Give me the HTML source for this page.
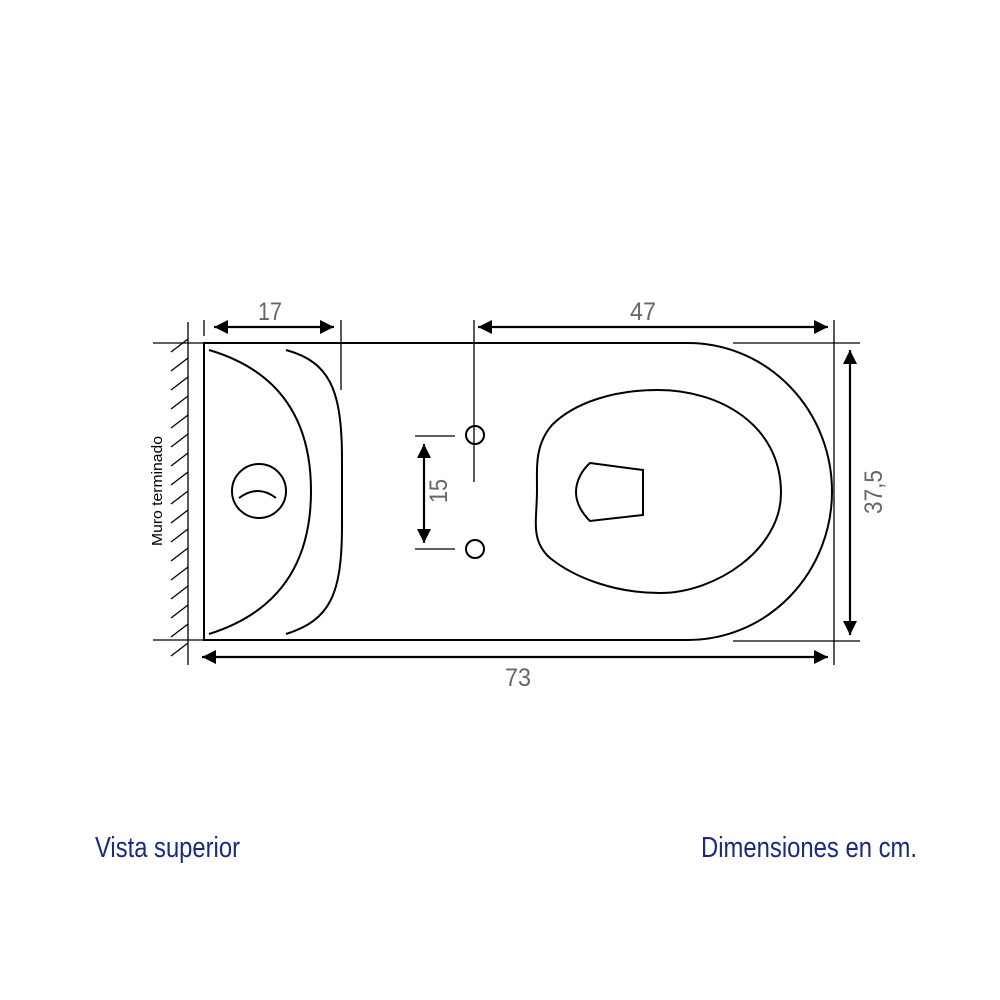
<!DOCTYPE html>
<html><head><meta charset="utf-8"><style>html,body{margin:0;padding:0;background:#fff}svg{display:block}</style></head>
<body>
<svg width="1000" height="1000" viewBox="0 0 1000 1000" xmlns="http://www.w3.org/2000/svg">
<defs>
<marker id="a" viewBox="0 0 10 10" refX="10" refY="5" markerWidth="20" markerHeight="14" markerUnits="userSpaceOnUse" orient="auto-start-reverse"><path d="M0,0 L10,5 L0,10 z" fill="#000"/></marker>
</defs>
<g fill="none" stroke="#000" stroke-width="2">
<path d="M204,343 L688,343 A144,148.5 0 0 1 688,640 L204,640 Z"/>
<path d="M209,350 Q311,380 311,491 Q311,602 209,634"/>
<path d="M286,350 C330,362 342,390 342,460 L342,525 C342,595 330,620 286,634"/>
<circle cx="259" cy="491" r="27"/>
<path d="M239,498 Q258,484 276,498"/>
<path d="M658,390 C720,390 781,425 781,493 C781,550 715,593 660,593 C615,593 575,578 550,558 C530,540 537,520 537,490 C537,465 535,445 552,425 C575,402 615,390 658,390 Z"/>
<path d="M590,463 L643,470 L643,515 L590,521 C582,513 576,503 576,492 C576,481 582,470 590,463 Z"/>
<circle cx="475" cy="435" r="9"/>
<circle cx="475" cy="549" r="9"/>
</g>
<g fill="none" stroke="#000" stroke-width="1.3">
<line x1="188" y1="322" x2="188" y2="665"/>
<line x1="153" y1="343" x2="204" y2="343"/>
<line x1="153" y1="640" x2="204" y2="640"/>
<line x1="204" y1="320" x2="204" y2="336"/>
<line x1="341" y1="320" x2="341" y2="390"/>
<line x1="474" y1="320" x2="474" y2="482"/>
<line x1="834" y1="320" x2="834" y2="665"/>
<line x1="733" y1="343" x2="860" y2="343"/>
<line x1="733" y1="641" x2="860" y2="641"/>
<line x1="415" y1="436" x2="455" y2="436"/>
<line x1="415" y1="549" x2="455" y2="549"/>
<line x1="171" y1="352" x2="188" y2="339"/><line x1="171" y1="371" x2="188" y2="358"/><line x1="171" y1="390" x2="188" y2="377"/><line x1="171" y1="409" x2="188" y2="396"/>
<line x1="171" y1="428" x2="188" y2="415"/><line x1="171" y1="447" x2="188" y2="434"/><line x1="171" y1="466" x2="188" y2="453"/><line x1="171" y1="485" x2="188" y2="472"/>
<line x1="171" y1="504" x2="188" y2="491"/><line x1="171" y1="523" x2="188" y2="510"/><line x1="171" y1="542" x2="188" y2="529"/><line x1="171" y1="561" x2="188" y2="548"/>
<line x1="171" y1="580" x2="188" y2="567"/><line x1="171" y1="599" x2="188" y2="586"/><line x1="171" y1="618" x2="188" y2="605"/><line x1="171" y1="637" x2="188" y2="624"/><line x1="171" y1="656" x2="188" y2="643"/>
</g>
<g stroke="#000" stroke-width="2.2" marker-start="url(#a)" marker-end="url(#a)">
<line x1="214" y1="327" x2="334" y2="327"/>
<line x1="478" y1="327" x2="828" y2="327"/>
<line x1="202" y1="657" x2="828" y2="657"/>
<line x1="850" y1="350" x2="850" y2="635"/>
<line x1="424" y1="444" x2="424" y2="543"/>
</g>
<g font-family="Liberation Sans, sans-serif" fill="#666" font-size="25" text-anchor="middle">
<text x="270" y="320" textLength="24" lengthAdjust="spacingAndGlyphs">17</text>
<text x="643" y="320" textLength="26" lengthAdjust="spacingAndGlyphs">47</text>
<text x="518" y="686" textLength="26" lengthAdjust="spacingAndGlyphs">73</text>
<text transform="translate(882,492) rotate(-90)" textLength="44" lengthAdjust="spacingAndGlyphs">37,5</text>
<text transform="translate(447,491) rotate(-90)" textLength="24" lengthAdjust="spacingAndGlyphs">15</text>
</g>
<text transform="translate(162,491) rotate(-90)" font-family="Liberation Sans, sans-serif" font-size="15" text-anchor="middle" textLength="110" lengthAdjust="spacingAndGlyphs">Muro terminado</text>
<g font-family="Liberation Sans, sans-serif" fill="#1a2a80" font-size="29">
<text x="95" y="857" textLength="145" lengthAdjust="spacingAndGlyphs">Vista superior</text>
<text x="701" y="857" textLength="216" lengthAdjust="spacingAndGlyphs">Dimensiones en cm.</text>
</g>
</svg>
</body></html>
